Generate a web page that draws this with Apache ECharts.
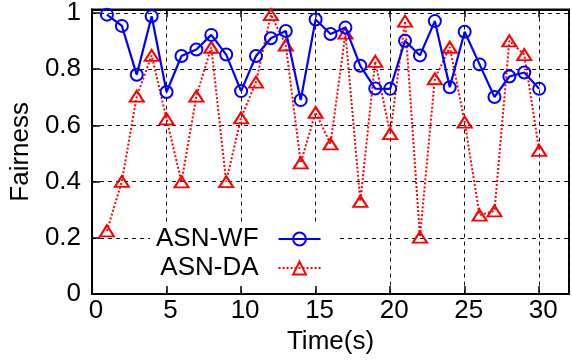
<!DOCTYPE html>
<html>
<head>
<meta charset="utf-8">
<script src="https://cdn.jsdelivr.net/npm/echarts@6/dist/echarts.min.js"></script>
<style>
  html, body { margin: 0; padding: 0; background: #fff; }
  #chart { width: 572px; height: 360px; }
</style>
</head>
<body>
<div id="chart"></div>
<script>
// Fairness over time for the two allocation schemes
const times = [1, 2, 3, 4, 5, 6, 7, 8, 9, 10, 11, 12, 13, 14, 15,
               16, 17, 18, 19, 20, 21, 22, 23, 24, 25, 26, 27, 28, 29, 30];
const asnWF = [0.994, 0.954, 0.780, 0.988, 0.719, 0.847, 0.870, 0.922, 0.852, 0.722,
               0.847, 0.910, 0.936, 0.690, 0.977, 0.925, 0.948, 0.812, 0.731, 0.730,
               0.901, 0.849, 0.971, 0.736, 0.933, 0.817, 0.701, 0.774, 0.788, 0.730];
const asnDA = [0.225, 0.401, 0.704, 0.849, 0.623, 0.399, 0.704, 0.878, 0.400, 0.627,
               0.754, 0.994, 0.886, 0.467, 0.646, 0.534, 0.928, 0.330, 0.828, 0.571,
               0.971, 0.203, 0.766, 0.878, 0.612, 0.281, 0.296, 0.901, 0.852, 0.511];
const xTicks = [0, 5, 10, 15, 20, 25, 30];
const yTicks = [0, 0.2, 0.4, 0.6, 0.8, 1];

const FONT = 'Liberation Sans';
const BLUE = '#0000ff';
const RED = '#ff0000';

const onTick = (list, v) => list.some(t => Math.abs(t - v) < 1e-6);

const chart = echarts.init(document.getElementById('chart'), null, { renderer: 'canvas' });

const gridLine = { show: true, lineStyle: { color: '#111', width: 1, type: [4, 4] } };

chart.setOption({
  animation: false,
  backgroundColor: '#fff',
  textStyle: { fontFamily: FONT },
  grid: {
    left: 92, top: 6, width: 488, height: 291.5,
    show: true, borderColor: '#000', borderWidth: 2, backgroundColor: 'transparent'
  },
  legend: {
    orient: 'vertical',
    align: 'right',
    left: 150,
    top: 224,
    padding: [2, 17, 5, 6],
    itemGap: 3,
    itemWidth: 42,
    itemHeight: 16,
    backgroundColor: '#fff',
    textStyle: {
      fontFamily: FONT, fontSize: 26, color: '#000',
      lineHeight: 26, padding: [0, 15, 0, 0]
    },
    data: ['ASN-WF', 'ASN-DA']
  },
  xAxis: [{
    type: 'value',
    min: 0, max: 32, interval: 5,
    name: 'Time(s)',
    nameLocation: 'middle',
    nameGap: 29,
    nameTextStyle: { fontFamily: FONT, fontSize: 26, color: '#000' },
    axisLine: { show: true, onZero: false, lineStyle: { color: '#000', width: 2 } },
    axisTick: { show: true, inside: true, length: 8, lineStyle: { color: '#000', width: 1.5 } },
    axisLabel: {
      fontFamily: FONT, fontSize: 26, color: '#000', margin: 4,
      padding: [0, 0, 0, 8],
      formatter: v => onTick(xTicks, v) ? String(v) : ''
    },
    splitLine: gridLine
  }, {
    type: 'value',
    position: 'top',
    min: 0, max: 32, interval: 5,
    axisLine: { show: true, onZero: false, lineStyle: { color: '#000', width: 2 } },
    axisTick: { show: true, inside: true, length: 8, lineStyle: { color: '#000', width: 1.5 } },
    axisLabel: { show: false },
    splitLine: { show: false }
  }],
  yAxis: {
    type: 'value',
    min: 0, max: 1.012, interval: 0.2,
    name: 'Fairness',
    nameLocation: 'middle',
    nameGap: 57,
    nameRotate: 90,
    nameTextStyle: { fontFamily: FONT, fontSize: 26, color: '#000' },
    axisLine: { show: true, onZero: false, lineStyle: { color: '#000', width: 2 } },
    axisTick: { show: true, inside: true, length: 8, lineStyle: { color: '#000', width: 1.5 } },
    axisLabel: {
      fontFamily: FONT, fontSize: 26, color: '#000', margin: 11,
      formatter: v => onTick(yTicks, v) ? String(Math.round(v * 10) / 10) : ''
    },
    splitLine: gridLine
  },
  series: [{
    name: 'ASN-WF',
    type: 'line',
    data: times.map((t, i) => [t, asnWF[i]]),
    symbol: 'circle',
    symbolSize: 12,
    showAllSymbol: true,
    lineStyle: { color: BLUE, width: 2.2 },
    itemStyle: { color: 'transparent', borderColor: BLUE, borderWidth: 2 },
    emphasis: { disabled: true },
    z: 3
  }, {
    name: 'ASN-DA',
    type: 'line',
    data: times.map((t, i) => [t, asnDA[i]]),
    symbol: 'triangle',
    symbolSize: [14, 11],
    showAllSymbol: true,
    lineStyle: { color: RED, width: 2, type: [2, 2] },
    itemStyle: { color: 'transparent', borderColor: RED, borderWidth: 2 },
    emphasis: { disabled: true },
    z: 2
  }]
});
</script>
</body>
</html>
